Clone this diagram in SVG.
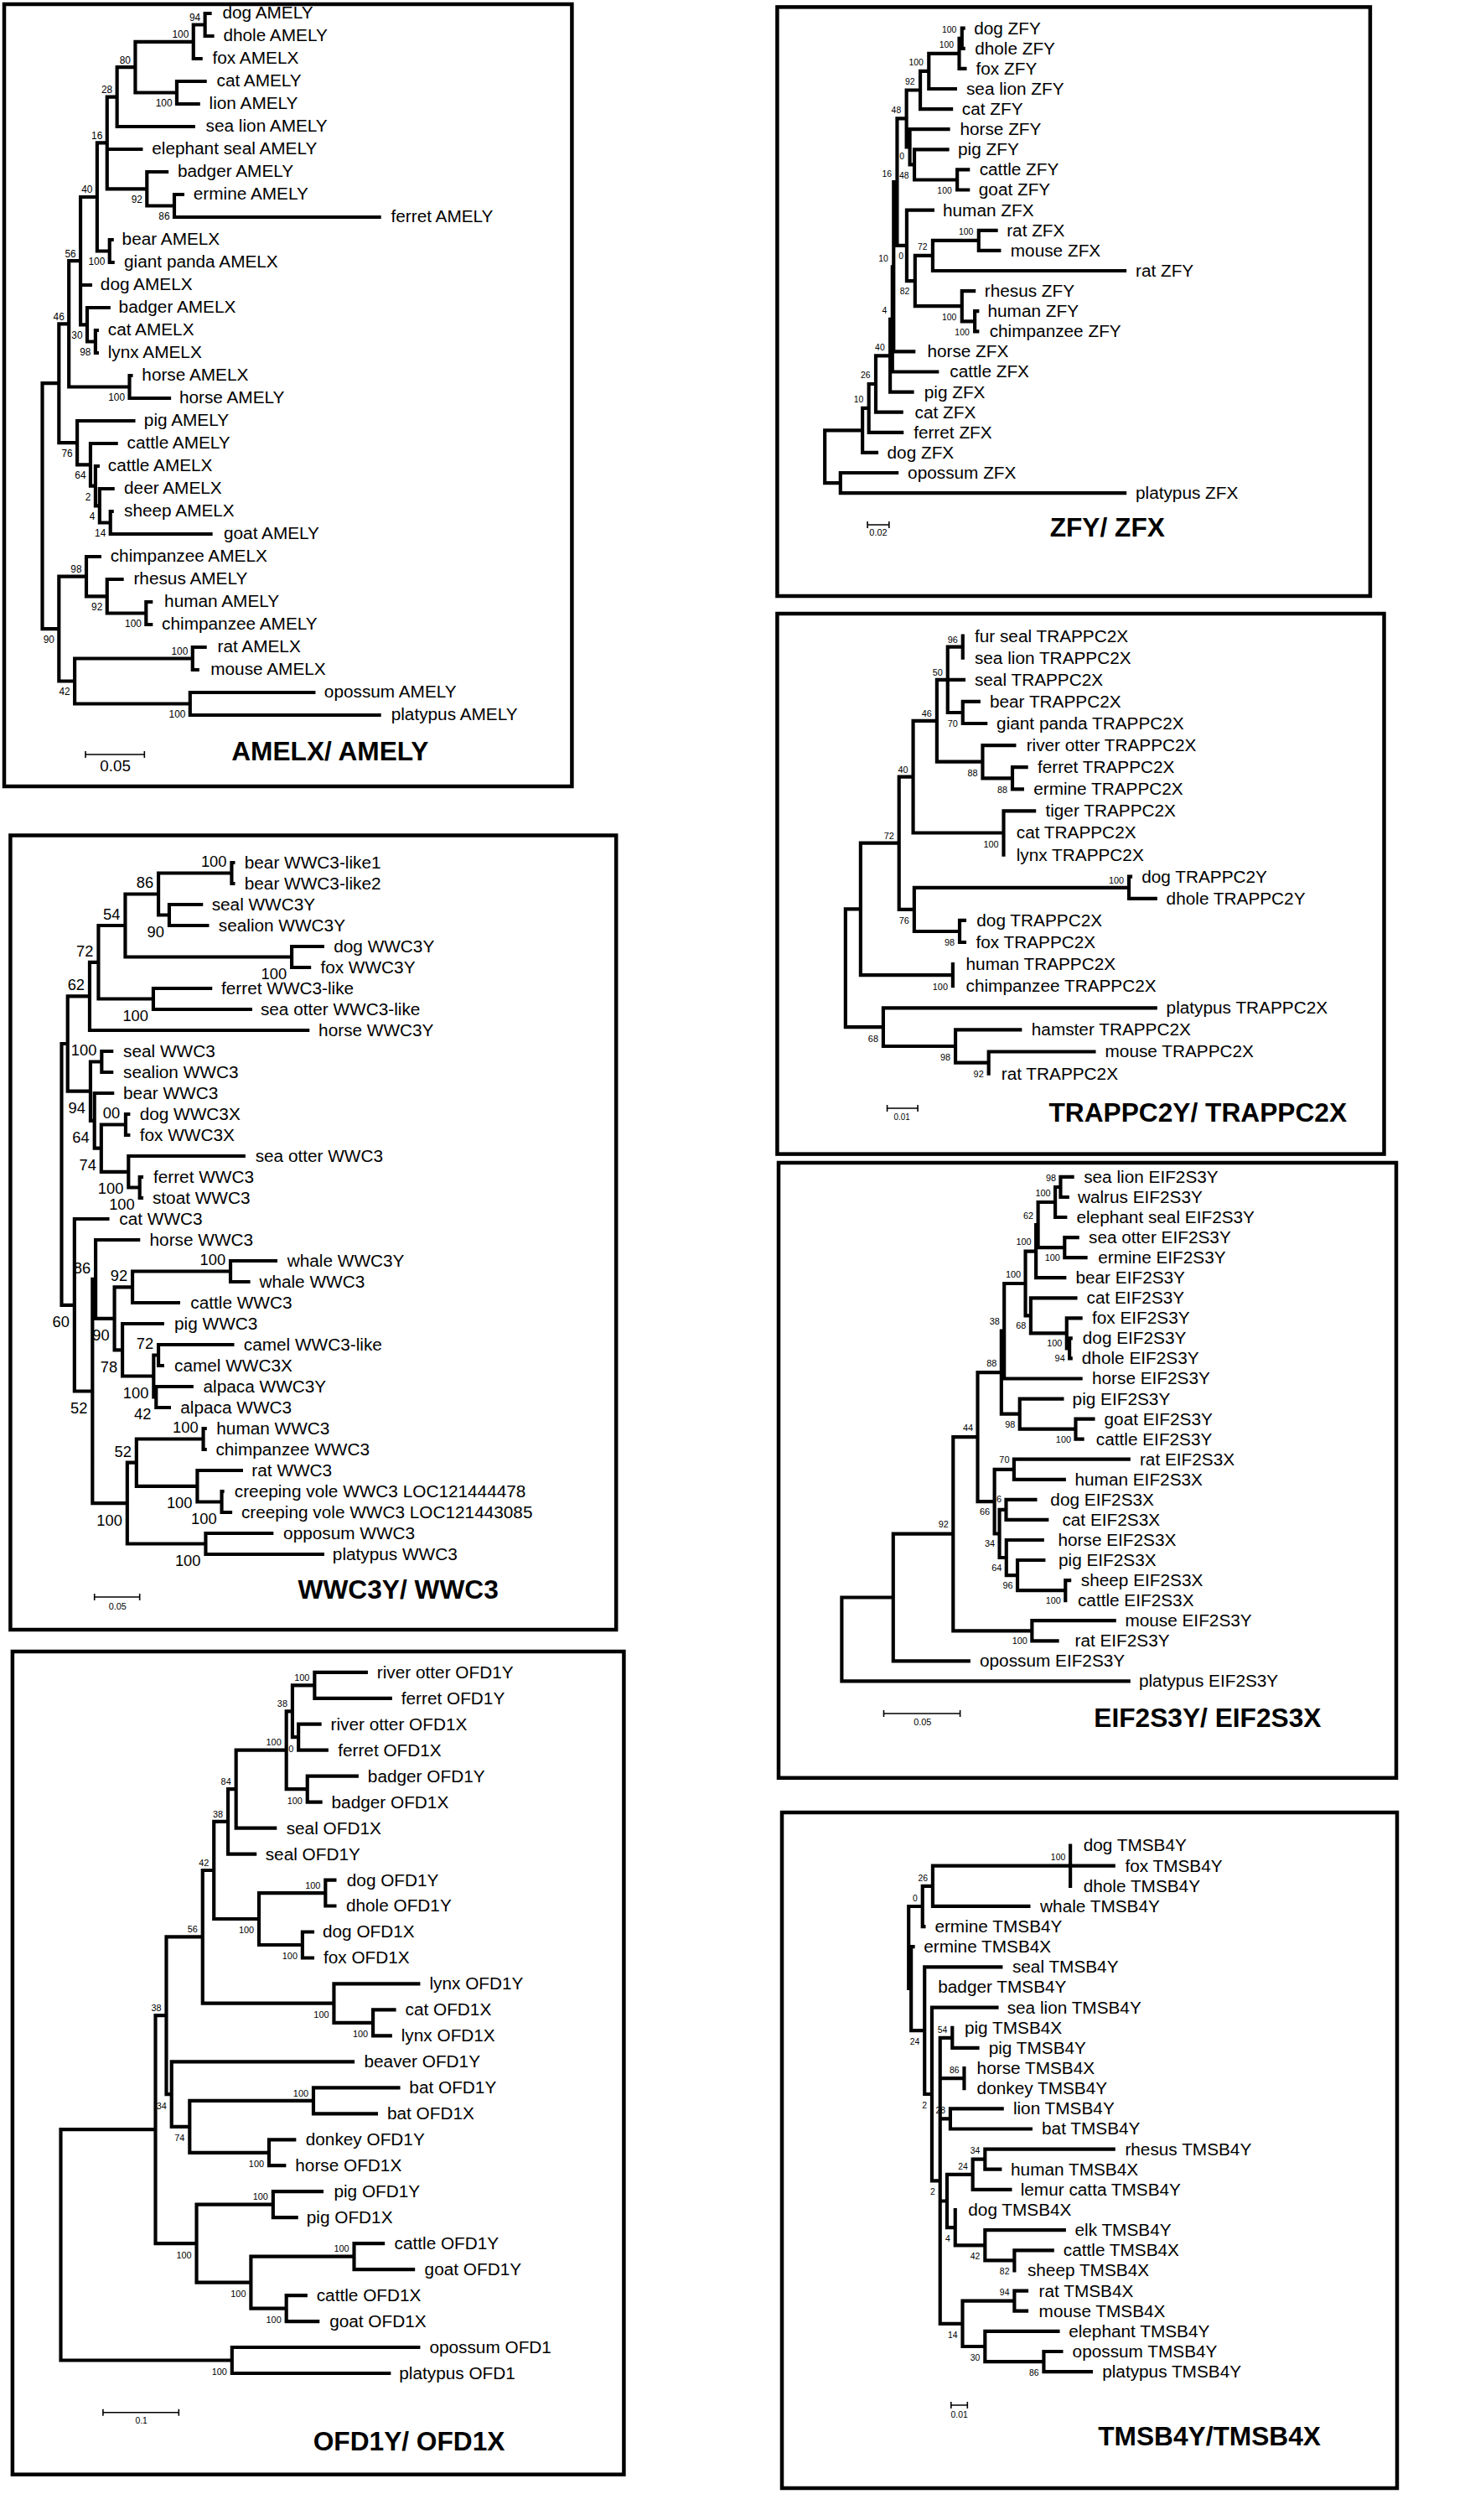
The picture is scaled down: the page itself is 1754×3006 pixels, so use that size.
<svg xmlns="http://www.w3.org/2000/svg" width="1754" height="3006" viewBox="0 0 1754 3006">
<style>
text{font-family:"Liberation Sans",Arial,Helvetica,sans-serif;fill:#000}
.lf{font-size:21px}
.bs{text-anchor:end;font-size:11px}
.bs12{text-anchor:end;font-size:12px}
.bs10{text-anchor:end;font-size:10.5px}
.bsL{text-anchor:end;font-size:18.5px}
.ttl{font-size:32px;font-weight:bold;text-anchor:middle}
.sbt{font-size:11px;text-anchor:middle}
.br{fill:none;stroke:#000;stroke-width:4.2;stroke-linecap:square}
.frame{fill:none;stroke:#000;stroke-width:4.5}
.sb{fill:none;stroke:#000;stroke-width:1.6}
</style>
<rect x="0" y="0" width="1754" height="3006" fill="#fff"/>

<!-- ================= AMELX / AMELY ================= -->
<g id="panel-amelx">
<rect class="frame" x="5" y="5" width="677.4" height="933"/>
<g transform="matrix(0.9904 0 0 1 0 0)">
<g id="amelx-support" class="bs12">
<text x="241.5" y="25">94</text><text x="227.5" y="45.3">100</text><text x="207.5" y="127.5">100</text>
<text x="157.5" y="75.6">80</text><text x="135.5" y="111.1">28</text><text x="123.5" y="165.9">16</text>
<text x="171.5" y="242.3">92</text><text x="204.5" y="262.5">86</text><text x="126.5" y="316.5">100</text>
<text x="111.5" y="230.5">40</text><text x="91.5" y="306.6">56</text><text x="99.5" y="404.3">30</text>
<text x="109.5" y="424.5">98</text><text x="77.5" y="381.8">46</text><text x="150.5" y="478.5">100</text>
<text x="87.5" y="545.2">76</text><text x="103.5" y="571.3">64</text><text x="109.5" y="596.6">2</text>
<text x="114.5" y="620.3">4</text><text x="127.5" y="640.5">14</text><text x="98.5" y="683.1">98</text>
<text x="123.5" y="728.3">92</text><text x="170.5" y="748.5">100</text><text x="65.5" y="767">90</text>
<text x="226.5" y="781">100</text><text x="84.5" y="829.5">42</text><text x="223.5" y="856.5">100</text>
</g>
<g id="amelx-connectors">
<path class="br" d="M51,457.2V750.1M51,457.2H71M51,750.1H71
M71,386.3V528.2M71,386.3H83M71,528.2H93
M83,311.1V461.5M83,311.1H97M83,461.5H156
M97,235V387.3M97,235H117M97,340H109M97,387.3H105
M117,170.4V299.5M117,170.4H129M117,299.5H132
M129,115.6V225.3M129,115.6H141M129,178H170M129,225.3H177
M141,80.1V151M141,80.1H163M141,151H233
M163,49.8V110.5M163,49.8H233M163,110.5H213
M233,29.5V70M233,29.5H247M233,70H242
M247,16V43M247,16H253M247,43H256
M213,97V124M213,97H247M213,124H239
M177,205V245.5M177,205H201M177,245.5H210
M210,232V259M210,232H220M210,259H457
M132,286V313M132,286H135M132,313H136
M105,367V407.5M105,367H131M105,407.5H115
M115,394V421M115,394H117M115,421H117
M156,448V475M156,448H158M156,475H204
M93,502V554.3M93,502H161M93,554.3H109
M109,529V579.6M109,529H140M109,579.6H115
M115,556V603.3M115,556H118M115,603.3H120
M120,583V623.5M120,583H136M120,623.5H133
M133,610V637M133,610H135M133,637H254
M71,687.6V812.5M71,687.6H104M71,812.5H90
M104,664V711.3M104,664H120M104,711.3H129
M129,691V731.5M129,691H147M129,731.5H176
M176,718V745M176,718H182M176,745H182
M90,785.5V839.5M90,785.5H232M90,839.5H229
M232,772V799M232,772H247M232,799H238
M229,826V853M229,826H378M229,853H457"/>
</g>
<g id="amelx-leaves" class="lf">
<text x="268" y="22.5">dog AMELY</text><text x="269" y="49.5">dhole AMELY</text><text x="256" y="76.5">fox AMELX</text>
<text x="261" y="103.5">cat AMELY</text><text x="252" y="130.5">lion AMELY</text><text x="248" y="157.5">sea lion AMELY</text>
<text x="183" y="184.5">elephant seal AMELY</text><text x="214" y="211.5">badger AMELY</text><text x="233" y="238.5">ermine AMELY</text>
<text x="471" y="265.5">ferret AMELY</text><text x="147" y="292.5">bear AMELX</text><text x="149.5" y="319.5">giant panda AMELX</text>
<text x="121" y="346.5">dog AMELX</text><text x="143" y="373.5">badger AMELX</text><text x="130" y="400.5">cat AMELX</text>
<text x="130" y="427.5">lynx AMELX</text><text x="171" y="454.5">horse AMELX</text><text x="216" y="481.5">horse AMELY</text>
<text x="173.5" y="508.5">pig AMELY</text><text x="153" y="535.5">cattle AMELY</text><text x="130" y="562.5">cattle AMELX</text>
<text x="149.5" y="589.5">deer AMELX</text><text x="149.5" y="616.5">sheep AMELX</text><text x="269.6" y="643.5">goat AMELY</text>
<text x="133" y="670.5">chimpanzee AMELX</text><text x="161" y="697.5">rhesus AMELY</text><text x="198" y="724.5">human AMELY</text>
<text x="195" y="751.5">chimpanzee AMELY</text><text x="262" y="778.5">rat AMELX</text><text x="253.7" y="805.5">mouse AMELX</text>
<text x="390.6" y="832.5">opossum AMELY</text><text x="471.2" y="859.5">platypus AMELY</text>
</g>
<path class="sb" d="M103,896V904M103,900H174M174,896V904" stroke-width="2"/>
<text x="139" y="920" style="font-size:19px;text-anchor:middle">0.05</text>
<text class="ttl" x="397.6" y="907.5">AMELX/ AMELY</text>
</g>
</g>

<!-- ================= ZFY / ZFX ================= -->
<g id="panel-zfy">
<rect class="frame" x="927.4" y="8.4" width="707.5" height="702.6"/>
<g transform="matrix(0.9904 0 0 1 9.024 0)">
<g id="zfy-support" class="bs10">
<text x="1143.3" y="39.3">100</text><text x="1140" y="57.3">100</text><text x="1103.4" y="78.4">100</text>
<text x="1093.1" y="101">92</text><text x="1076.5" y="134.9">48</text><text x="1080.5" y="190.5">0</text>
<text x="1086" y="212.8">48</text><text x="1137.6" y="230.9">100</text><text x="1065.2" y="210.6">16</text>
<text x="1079.3" y="309">0</text><text x="1108.1" y="298.4">72</text><text x="1163.5" y="280.4">100</text>
<text x="1086.8" y="351.5">82</text><text x="1143.3" y="381.6">100</text><text x="1158.8" y="399.7">100</text>
<text x="1061" y="311.8">10</text><text x="1059.5" y="374.4">4</text><text x="1056.8" y="417.8">40</text>
<text x="1039.5" y="451.5">26</text><text x="1031.1" y="480.4">10</text>
</g>
<g id="zfy-connectors">
<path class="br" d="M984.6,513.4V576.1M984.6,513.4H1030M984.6,576.1H1003.4
M1003.4,564V588.1M1003.4,564H1071.4M1003.4,588.1H1346
M1030,486.9V539.9M1030,486.9H1037.6M1030,539.9H1047
M1037.6,458V515.8M1037.6,458H1046M1037.6,515.8H1077.5
M1046,424.3V491.7M1046,424.3H1063.3M1046,491.7H1077
M1063.3,380.9V467.6M1063.3,380.9H1066M1063.3,467.6H1090
M1066,318.3V443.5M1066,318.3H1067.5M1066,443.5H1120
M1067.5,217.1V419.4M1067.5,217.1H1071.7M1067.5,419.4H1091.7
M1071.7,141.4V292.8M1071.7,141.4H1083M1071.7,292.8H1083.3
M1083,107.5V175.3M1083,107.5H1099.6M1083,175.3H1087
M1099.6,84.9V130.1M1099.6,84.9H1109.9M1099.6,130.1H1137
M1109.9,63.8V106M1109.9,63.8H1146.5M1109.9,106H1141.8
M1146.5,45.8V81.9M1146.5,45.8H1149.8M1146.5,81.9H1153.5
M1149.8,33.7V57.8M1149.8,33.7H1151.7M1149.8,57.8H1151.7
M1087,154.2V196.4M1087,154.2H1133.4M1087,196.4H1092.5
M1092.5,178.3V214.5M1092.5,178.3H1132.4M1092.5,214.5H1144.1
M1144.1,202.4V226.5M1144.1,202.4H1157.3M1144.1,226.5H1157.3
M1083.3,250.6V335.1M1083.3,250.6H1114.6M1083.3,335.1H1093.3
M1093.3,304.9V365.2M1093.3,304.9H1114.6M1093.3,365.2H1149.8
M1114.6,286.9V323M1114.6,286.9H1170M1114.6,323H1346
M1170,274.8V298.9M1170,274.8H1191M1170,298.9H1194.8
M1149.8,347.1V383.3M1149.8,347.1H1164.3M1149.8,383.3H1165.3
M1165.3,371.2V395.3M1165.3,371.2H1168.5M1165.3,395.3H1168.5"/>
</g>
<g id="zfy-leaves" class="lf">
<text x="1164.3" y="40.7">dog ZFY</text><text x="1165.3" y="64.8">dhole ZFY</text><text x="1166.7" y="88.9">fox ZFY</text>
<text x="1155" y="113">sea lion ZFY</text><text x="1149.8" y="137.1">cat ZFY</text><text x="1147.4" y="161.2">horse ZFY</text>
<text x="1145" y="185.3">pig ZFY</text><text x="1170.9" y="209.4">cattle ZFY</text><text x="1170" y="233.5">goat ZFY</text>
<text x="1126.8" y="257.6">human ZFX</text><text x="1203.7" y="281.8">rat ZFX</text><text x="1208.4" y="305.9">mouse ZFX</text>
<text x="1359" y="330">rat ZFY</text><text x="1177" y="354.1">rhesus ZFY</text><text x="1180.8" y="378.2">human ZFY</text>
<text x="1183" y="402.3">chimpanzee ZFY</text><text x="1108" y="426.4">horse ZFX</text><text x="1135.2" y="450.5">cattle ZFX</text>
<text x="1104.3" y="474.6">pig ZFX</text><text x="1093" y="498.7">cat ZFX</text><text x="1091.6" y="522.8">ferret ZFX</text>
<text x="1059.7" y="546.9">dog ZFX</text><text x="1084.5" y="571">opossum ZFX</text><text x="1359" y="595.1">platypus ZFX</text>
</g>
<path class="sb" d="M1036,622V630M1036,626H1062M1062,622V630"/>
<text class="sbt" x="1049" y="639.5">0.02</text>
<text class="ttl" x="1325" y="640">ZFY/ ZFX</text>
</g>
</g>

<!-- ================= TRAPPC2Y / TRAPPC2X ================= -->
<g id="panel-trappc2">
<rect class="frame" x="927.4" y="732" width="724.1" height="644.6"/>
<g transform="matrix(0.9904 0 0 1 9.024 0)">
<g id="trappc2-support" class="bs">
<text x="1144.8" y="766.9">96</text><text x="1126.6" y="806">50</text><text x="1144.8" y="867.5">70</text>
<text x="1113.6" y="855">46</text><text x="1168.7" y="926.2">88</text><text x="1204.6" y="945.8">88</text>
<text x="1085" y="921.8">40</text><text x="1194" y="1011">100</text><text x="1068" y="1000.9">72</text>
<text x="1086.3" y="1102.4">76</text><text x="1345" y="1054">100</text><text x="1141" y="1128.5">98</text>
<text x="1132.8" y="1180.7">100</text><text x="1049" y="1242.6">68</text><text x="1136" y="1265.5">98</text>
<text x="1176" y="1285">92</text>
</g>
<g id="trappc2-connectors">
<path class="br" d="M1009.5,1084.4V1225.1M1009.5,1084.4H1027.7M1009.5,1225.1H1055
M1027.7,1005.7V1163.2M1027.7,1005.7H1074M1027.7,1163.2H1138.8
M1074,926.6V1084.9M1074,926.6H1091M1074,1084.9H1092.3
M1091,859.8V993.5M1091,859.8H1119.6M1091,993.5H1200
M1119.6,810.8V908.7M1119.6,810.8H1132.6M1119.6,908.7H1174.7
M1132.6,771.7V850M1132.6,771.7H1150.8M1132.6,810.8H1152M1132.6,850H1150.8
M1150.8,758.6V784.7
M1150.8,836.9V863M1150.8,836.9H1170M1150.8,863H1178.5
M1174.7,889.1V928.3M1174.7,889.1H1213M1174.7,928.3H1210.6
M1210.6,915.2V941.3M1210.6,915.2H1227.4M1210.6,941.3H1222.6
M1200,967.4V1019.6M1200,967.4H1237
M1092.3,1058.8V1111M1092.3,1058.8H1351M1092.3,1111H1147
M1351,1045.7V1071.8M1351,1045.7H1353M1351,1071.8H1383
M1147,1097.9V1124M1147,1097.9H1153M1147,1124H1153
M1138.8,1150.1V1176.2
M1055,1202.3V1248M1055,1202.3H1383M1055,1248H1142
M1142,1228.4V1267.6M1142,1228.4H1220M1142,1267.6H1182
M1182,1254.5V1280.6M1182,1254.5H1309"/>
</g>
<g id="trappc2-leaves" class="lf">
<text x="1165.1" y="765.6">fur seal TRAPPC2X</text><text x="1165.1" y="791.7">sea lion TRAPPC2X</text>
<text x="1165.1" y="817.8">seal TRAPPC2X</text><text x="1183.3" y="843.9">bear TRAPPC2X</text>
<text x="1191.5" y="870">giant panda TRAPPC2X</text><text x="1227.4" y="896.1">river otter TRAPPC2X</text>
<text x="1240.8" y="922.2">ferret TRAPPC2X</text><text x="1236" y="948.3">ermine TRAPPC2X</text>
<text x="1250.4" y="974.4">tiger TRAPPC2X</text><text x="1215.4" y="1000.5">cat TRAPPC2X</text>
<text x="1215.4" y="1026.6">lynx TRAPPC2X</text><text x="1366.3" y="1052.7">dog TRAPPC2Y</text>
<text x="1396" y="1078.8">dhole TRAPPC2Y</text><text x="1167.5" y="1104.9">dog TRAPPC2X</text>
<text x="1166.6" y="1131">fox TRAPPC2X</text><text x="1154.6" y="1157.1">human TRAPPC2X</text>
<text x="1154.6" y="1183.2">chimpanzee TRAPPC2X</text><text x="1396" y="1209.3">platypus TRAPPC2X</text>
<text x="1233.6" y="1235.4">hamster TRAPPC2X</text><text x="1322.2" y="1261.5">mouse TRAPPC2X</text>
<text x="1197.2" y="1287.6">rat TRAPPC2X</text>
</g>
<path class="sb" d="M1059.7,1318V1326M1059.7,1322H1096.6M1096.6,1318V1326"/>
<text class="sbt" x="1077.5" y="1336" style="font-size:10px">0.01</text>
<text class="ttl" x="1434" y="1338.5">TRAPPC2Y/ TRAPPC2X</text>
</g>
</g>

<!-- ================= EIF2S3Y / EIF2S3X ================= -->
<g id="panel-eif2s3">
<rect class="frame" x="929" y="1387" width="737" height="733.8"/>
<g transform="matrix(0.9904 0 0 1 9.024 0)">
<g id="eif2s3-support" class="bs">
<text x="1263.1" y="1408.8">98</text><text x="1256.7" y="1426.8">100</text><text x="1236" y="1453.8">62</text>
<text x="1268" y="1504.1">100</text><text x="1233.5" y="1485.4">100</text><text x="1220.8" y="1523.8">100</text>
<text x="1227.2" y="1585.3">68</text><text x="1270.5" y="1606.4">100</text><text x="1273.9" y="1624.4">94</text>
<text x="1195.2" y="1580.5">38</text><text x="1191.8" y="1630">88</text><text x="1213.9" y="1702.6">98</text>
<text x="1281.3" y="1720.7">100</text><text x="1163.2" y="1707">44</text><text x="1207" y="1745.5">70</text>
<text x="1183.5" y="1807.1">66</text><text x="1197.5" y="1792.5">6</text><text x="1189.5" y="1845.5">34</text>
<text x="1197.8" y="1874">64</text><text x="1211.2" y="1895.1">96</text><text x="1269" y="1913.2">100</text>
<text x="1133.7" y="1822.5">92</text><text x="1228.7" y="1961.3">100</text>
</g>
<g id="eif2s3-connectors">
<path class="br" d="M1005,1905.5V2005.4M1005,1905.5H1067M1005,2005.4H1350.7
M1067,1829.7V1981.3M1067,1829.7H1139.2M1067,1981.3H1157.9
M1139.2,1714.2V1945.3M1139.2,1714.2H1168.7M1139.2,1945.3H1234.2
M1234.2,1933.2V1957.3M1234.2,1933.2H1333.5M1234.2,1957.3H1264.7
M1168.7,1637.2V1791.1M1168.7,1637.2H1197.3M1168.7,1791.1H1189
M1197.3,1587.7V1686.6M1197.3,1587.7H1200.7M1197.3,1686.6H1219.4
M1200.7,1531V1644.5M1200.7,1531H1226.3M1200.7,1644.5H1293
M1226.3,1492.6V1569.3M1226.3,1492.6H1239M1226.3,1569.3H1232.7
M1239,1461V1524.2M1239,1461H1241.5M1239,1524.2H1273.5
M1241.5,1434V1488.1M1241.5,1434H1262.2M1241.5,1488.1H1273.5
M1262.2,1416V1452M1262.2,1416H1268.6M1262.2,1452H1274.5
M1268.6,1403.9V1428M1268.6,1403.9H1282.9M1268.6,1428H1277
M1273.5,1476.1V1500.1M1273.5,1476.1H1289M1273.5,1500.1H1299
M1232.7,1548.3V1590.4M1232.7,1548.3H1286.8M1232.7,1590.4H1276
M1276,1572.3V1608.4M1276,1572.3H1293M1276,1608.4H1279.4
M1279.4,1596.4V1620.4M1279.4,1596.4H1281M1279.4,1620.4H1281
M1219.4,1668.6V1704.7M1219.4,1668.6H1270.6M1219.4,1704.7H1286.8
M1286.8,1692.6V1716.7M1286.8,1692.6H1308M1286.8,1716.7H1295
M1189,1752.8V1829.5M1189,1752.8H1212.5M1189,1829.5H1195
M1212.5,1740.7V1764.8M1212.5,1740.7H1350.7M1212.5,1764.8H1273
M1195,1800.9V1858M1195,1800.9H1203M1195,1858H1203.3
M1203,1788.9V1812.9M1203,1788.9H1238.3M1203,1812.9H1252.3
M1203.3,1837V1879.1M1203.3,1837H1246.7M1203.3,1879.1H1216.7
M1216.7,1861V1897.2M1216.7,1861H1248.3M1216.7,1897.2H1274.5
M1274.5,1885.1V1909.2M1274.5,1885.1H1279.4"/>
</g>
<g id="eif2s3-leaves" class="lf">
<text x="1296.6" y="1410.9">sea lion EIF2S3Y</text><text x="1289.3" y="1435">walrus EIF2S3Y</text>
<text x="1287.8" y="1459">elephant seal EIF2S3Y</text><text x="1302.5" y="1483.1">sea otter EIF2S3Y</text>
<text x="1313.8" y="1507.1">ermine EIF2S3Y</text><text x="1286.8" y="1531.2">bear EIF2S3Y</text>
<text x="1300" y="1555.3">cat EIF2S3Y</text><text x="1306.5" y="1579.3">fox EIF2S3Y</text>
<text x="1295.2" y="1603.4">dog EIF2S3Y</text><text x="1294.2" y="1627.4">dhole EIF2S3Y</text>
<text x="1306.5" y="1651.5">horse EIF2S3Y</text><text x="1282.9" y="1675.6">pig EIF2S3Y</text>
<text x="1321.2" y="1699.6">goat EIF2S3Y</text><text x="1311.4" y="1723.7">cattle EIF2S3Y</text>
<text x="1364" y="1747.7">rat EIF2S3X</text><text x="1285.8" y="1771.8">human EIF2S3X</text>
<text x="1256.4" y="1795.9">dog EIF2S3X</text><text x="1270.6" y="1819.9">cat EIF2S3X</text>
<text x="1265.6" y="1844">horse EIF2S3X</text><text x="1266.1" y="1868">pig EIF2S3X</text>
<text x="1293.2" y="1892.1">sheep EIF2S3X</text><text x="1289.3" y="1916.2">cattle EIF2S3X</text>
<text x="1346.3" y="1940.2">mouse EIF2S3Y</text><text x="1285.8" y="1964.3">rat EIF2S3Y</text>
<text x="1171.2" y="1988.3">opossum EIF2S3Y</text><text x="1363" y="2012.4">platypus EIF2S3Y</text>
</g>
<path class="sb" d="M1055.6,2040V2048M1055.6,2044H1147.6M1147.6,2040V2048"/>
<text class="sbt" x="1102.3" y="2058">0.05</text>
<text class="ttl" x="1445.7" y="2060.2">EIF2S3Y/ EIF2S3X</text>
</g>
</g>

<!-- ================= TMSB4Y / TMSB4X ================= -->
<g id="panel-tmsb4">
<rect class="frame" x="933" y="2162" width="734" height="806"/>
<g transform="matrix(0.9904 0 0 1 9.024 0)">
<g id="tmsb4-support" class="bs10">
<text x="1274.4" y="2219.5">100</text><text x="1108.6" y="2243.6">26</text><text x="1096.3" y="2267.8">0</text>
<text x="1098.8" y="2438.9">24</text><text x="1107.6" y="2514.8">2</text><text x="1132.2" y="2424.7">54</text>
<text x="1146.5" y="2472.9">86</text><text x="1129.8" y="2521.2">28</text><text x="1117.5" y="2618.1">2</text>
<text x="1171.6" y="2569.5">34</text><text x="1156.8" y="2587.6">24</text><text x="1135.7" y="2673.9">4</text>
<text x="1171.6" y="2695.1">42</text><text x="1207" y="2713.2">82</text><text x="1207" y="2738.5">94</text>
<text x="1144.5" y="2788.6">14</text><text x="1171.6" y="2815.8">30</text><text x="1242.4" y="2833.9">86</text>
</g>
<g id="tmsb4-connectors">
<path class="br" d="M1085.6,2274V2372M1085.6,2274H1102.3M1085.6,2372H1088.6
M1088.6,2322.2V2422.1M1088.6,2322.2H1091M1088.6,2422.1H1104.8
M1102.3,2249.8V2298.1M1102.3,2249.8H1114.6M1102.3,2298.1H1104
M1114.6,2225.7V2273.9M1114.6,2225.7H1332.5M1114.6,2273.9H1230.2
M1280.4,2201.5V2249.8
M1104.8,2346.3V2498M1104.8,2346.3H1196.8M1104.8,2498H1113.6
M1113.6,2394.6V2601.3M1113.6,2394.6H1191.9M1113.6,2601.3H1123.5
M1123.5,2430.9V2771.8M1123.5,2430.9H1138.2M1123.5,2479.1H1152.5M1123.5,2527.4H1135.8M1123.5,2625.5H1131.8M1123.5,2771.8H1150.5
M1138.2,2418.8V2442.9M1138.2,2442.9H1168.7
M1152.5,2467V2491.2
M1135.8,2515.3V2539.5M1135.8,2515.3H1198.2M1135.8,2539.5H1232.7
M1131.8,2593.8V2657.1M1131.8,2593.8H1162.8M1131.8,2657.1H1141.7
M1162.8,2575.7V2611.9M1162.8,2575.7H1177.6M1162.8,2611.9H1208
M1177.6,2563.6V2587.7M1177.6,2563.6H1332.5M1177.6,2587.7H1195.8
M1141.7,2636V2678.3M1141.7,2678.3H1177.6
M1177.6,2660.2V2696.4M1177.6,2660.2H1273M1177.6,2696.4H1213
M1213,2684.3V2708.4M1213,2684.3H1258.8
M1150.5,2744.7V2799M1150.5,2744.7H1213M1150.5,2799H1177.6
M1213,2732.6V2756.7M1213,2732.6H1227.8M1213,2756.7H1227.8
M1177.6,2780.9V2817.1M1177.6,2780.9H1265.6M1177.6,2817.1H1248.4
M1248.4,2805V2829.1M1248.4,2805H1269.6M1248.4,2829.1H1305.5"/>
</g>
<g id="tmsb4-leaves" class="lf">
<text x="1296.1" y="2208.5">dog TMSB4Y</text><text x="1346.3" y="2232.6">fox TMSB4Y</text>
<text x="1296.1" y="2256.8">dhole TMSB4Y</text><text x="1244" y="2280.9">whale TMSB4Y</text>
<text x="1117.1" y="2305.1">ermine TMSB4Y</text><text x="1103.8" y="2329.2">ermine TMSB4X</text>
<text x="1210.5" y="2353.3">seal TMSB4Y</text><text x="1121" y="2377.5">badger TMSB4Y</text>
<text x="1204.2" y="2401.6">sea lion TMSB4Y</text><text x="1153" y="2425.8">pig TMSB4X</text>
<text x="1182" y="2449.9">pig TMSB4Y</text><text x="1167.8" y="2474">horse TMSB4X</text>
<text x="1167.8" y="2498.2">donkey TMSB4Y</text><text x="1211.5" y="2522.3">lion TMSB4Y</text>
<text x="1246" y="2546.5">bat TMSB4Y</text><text x="1346.3" y="2570.6">rhesus TMSB4Y</text>
<text x="1208.6" y="2594.7">human TMSB4X</text><text x="1220.4" y="2618.9">lemur catta TMSB4Y</text>
<text x="1157.4" y="2643">dog TMSB4X</text><text x="1285.8" y="2667.2">elk TMSB4Y</text>
<text x="1272" y="2691.3">cattle TMSB4X</text><text x="1228.7" y="2715.4">sheep TMSB4X</text>
<text x="1242.5" y="2739.6">rat TMSB4X</text><text x="1242.5" y="2763.7">mouse TMSB4X</text>
<text x="1278.4" y="2787.9">elephant TMSB4Y</text><text x="1282.9" y="2812">opossum TMSB4Y</text>
<text x="1318.8" y="2836.1">platypus TMSB4Y</text>
</g>
<path class="sb" d="M1136.7,2865V2873M1136.7,2869H1156.4M1156.4,2865V2873"/>
<text class="sbt" x="1146.6" y="2884" style="font-size:10.5px">0.01</text>
<text class="ttl" x="1448" y="2917.3">TMSB4Y/TMSB4X</text>
</g>
</g>

<!-- ================= WWC3Y / WWC3 ================= -->
<g id="panel-wwc3">
<rect class="frame" x="12.4" y="996.5" width="722.8" height="947.5"/>
<g transform="matrix(0.9904 0 0 1 0.096 0)">
<g id="wwc3-support" class="bsL">
<text x="273" y="1034.5">100</text><text x="184.8" y="1059.5">86</text><text x="197.8" y="1118">90</text>
<text x="144.8" y="1097">54</text><text x="345.4" y="1168">100</text><text x="112.5" y="1140.8">72</text>
<text x="178.6" y="1218">100</text><text x="101.9" y="1181.4">62</text><text x="116.4" y="1259.5">100</text>
<text x="102.9" y="1328.2">94</text><text x="107.7" y="1363.3">64</text><text x="144.5" y="1334.5">00</text>
<text x="115.9" y="1396.1">74</text><text x="148.7" y="1424.3">100</text><text x="162.2" y="1443">100</text>
<text x="109.1" y="1518.9">86</text><text x="271.6" y="1509.5">100</text><text x="153.5" y="1528.3">92</text>
<text x="131.8" y="1599.3">90</text><text x="83.6" y="1583.3">60</text><text x="184.8" y="1609.5">72</text>
<text x="141.4" y="1636.8">78</text><text x="179" y="1668">100</text><text x="182" y="1693">42</text>
<text x="105.3" y="1686">52</text><text x="238.8" y="1709.5">100</text><text x="158.3" y="1737.6">52</text>
<text x="231.6" y="1799.3">100</text><text x="261" y="1818">100</text><text x="147.2" y="1819.6">100</text>
<text x="241.7" y="1868">100</text>
</g>
<g id="wwc3-connectors">
<path class="br" d="M74.1,1245V1556.8M74.1,1245H81.4M74.1,1556.8H89.6
M81.4,1188.4V1301.7M81.4,1188.4H107.9M81.4,1301.7H108.9
M107.9,1147.8V1229M107.9,1147.8H118.5M107.9,1229H370.7
M118.5,1104V1191.5M118.5,1104H150.8M118.5,1191.5H184.6
M150.8,1066.5V1141.5M150.8,1066.5H190.8M150.8,1141.5H351.4
M190.8,1041.5V1091.5M190.8,1041.5H279M190.8,1091.5H203.8
M279,1029V1054M279,1029H281M279,1054H281
M203.8,1079V1104M203.8,1079H242.4M203.8,1104H249.7
M351.4,1129V1154M351.4,1129H388.5M351.4,1154H372.6
M184.6,1179V1204M184.6,1179H253.5M184.6,1204H301.7
M108.9,1266.5V1336.8M108.9,1266.5H122.4M108.9,1336.8H113.7
M122.4,1254V1279M122.4,1254H134.4M122.4,1279H134.4
M113.7,1304V1369.6M113.7,1304H135.4M113.7,1369.6H121.9
M121.9,1341.5V1397.8M121.9,1341.5H151.3M121.9,1397.8H154.7
M151.3,1329V1354M151.3,1329H154.7M151.3,1354H154.7
M154.7,1379V1416.5M154.7,1379H293.5M154.7,1416.5H168.2
M168.2,1404V1429M168.2,1404H170.5M168.2,1429H170.5
M89.6,1454V1659.5M89.6,1454H129.6M89.6,1659.5H111.3
M111.3,1525.9V1793.1M111.3,1525.9H115.1M111.3,1793.1H153.2
M115.1,1479V1572.8M115.1,1479H166.7M115.1,1572.8H137.8
M137.8,1535.3V1610.3M137.8,1535.3H159.5M137.8,1610.3H147.4
M159.5,1516.5V1554M159.5,1516.5H277.6M159.5,1554H214.9
M277.6,1504V1529M277.6,1504H332M277.6,1529H299.3
M147.4,1579V1641.5M147.4,1579H195.6M147.4,1641.5H185
M185,1616.5V1666.5M185,1616.5H190.8M185,1666.5H188
M190.8,1604V1629M190.8,1604H280M190.8,1629H195.6
M188,1654V1679M188,1654H230.9M188,1679H203.8
M153.2,1744.6V1841.5M153.2,1744.6H164.3M153.2,1841.5H247.7
M164.3,1716.5V1772.8M164.3,1716.5H244.8M164.3,1772.8H237.6
M244.8,1704V1729M244.8,1704H247M244.8,1729H247
M237.6,1754V1791.5M237.6,1754H290.6M237.6,1791.5H267
M267,1779V1804M267,1779H268M267,1804H277.6
M247.7,1829V1854M247.7,1829H327.3M247.7,1854H388.5"/>
</g>
<g id="wwc3-leaves" class="lf">
<text x="294.5" y="1036">bear WWC3-like1</text><text x="294.5" y="1061">bear WWC3-like2</text>
<text x="255" y="1086">seal WWC3Y</text><text x="263.2" y="1111">sealion WWC3Y</text>
<text x="402" y="1136">dog WWC3Y</text><text x="386" y="1161">fox WWC3Y</text>
<text x="266.5" y="1186">ferret WWC3-like</text><text x="313.8" y="1211">sea otter WWC3-like</text>
<text x="383.7" y="1236">horse WWC3Y</text><text x="148.4" y="1261">seal WWC3</text>
<text x="148.4" y="1286">sealion WWC3</text><text x="148.4" y="1311">bear WWC3</text>
<text x="168.2" y="1336">dog WWC3X</text><text x="168.2" y="1361">fox WWC3X</text>
<text x="307.5" y="1386">sea otter WWC3</text><text x="184.6" y="1411">ferret WWC3</text>
<text x="183.6" y="1436">stoat WWC3</text><text x="143.6" y="1461">cat WWC3</text>
<text x="180.2" y="1486">horse WWC3</text><text x="346" y="1511">whale WWC3Y</text>
<text x="312.3" y="1536">whale WWC3</text><text x="229.4" y="1561">cattle WWC3</text>
<text x="210" y="1586">pig WWC3</text><text x="293.5" y="1611">camel WWC3-like</text>
<text x="210" y="1636">camel WWC3X</text><text x="244.8" y="1661">alpaca WWC3Y</text>
<text x="217.3" y="1686">alpaca WWC3</text><text x="260.7" y="1711">human WWC3</text>
<text x="259.8" y="1736">chimpanzee WWC3</text><text x="303.2" y="1761">rat WWC3</text>
<text x="282.4" y="1786">creeping vole WWC3 LOC121444478</text><text x="290.6" y="1811">creeping vole WWC3 LOC121443085</text>
<text x="341.3" y="1836">opposum WWC3</text><text x="400.6" y="1861">platypus WWC3</text>
</g>
<path class="sb" d="M113.7,1901V1909M113.7,1905H168.2M168.2,1901V1909"/>
<text class="sbt" x="141.6" y="1919.7">0.05</text>
<text class="ttl" x="479.7" y="1907.5">WWC3Y/ WWC3</text>
</g>
</g>

<!-- ================= OFD1Y / OFD1X ================= -->
<g id="panel-ofd1">
<rect class="frame" x="14.9" y="1970" width="729.5" height="981.7"/>
<g transform="matrix(0.9904 0 0 1 0.096 0)">
<g id="ofd1-support" class="bs">
<text x="372.9" y="2005.1">100</text><text x="353.5" y="2089.7">0</text><text x="346.2" y="2036.1">38</text>
<text x="338.9" y="2082.5">100</text><text x="364.2" y="2151.7">100</text><text x="278.3" y="2129">84</text>
<text x="268.6" y="2167.7">38</text><text x="386" y="2252.9">100</text><text x="358.3" y="2337.5">100</text>
<text x="305.9" y="2306.5">100</text><text x="251.6" y="2225.8">42</text><text x="443.3" y="2430.4">100</text>
<text x="396.2" y="2407.2">100</text><text x="238" y="2305.1">56</text><text x="194.3" y="2399">38</text>
<text x="371.5" y="2500.6">100</text><text x="318" y="2585.3">100</text><text x="222.4" y="2554.3">74</text>
<text x="200.6" y="2515.6">34</text><text x="322.9" y="2624.5">100</text><text x="420.5" y="2686.5">100</text>
<text x="338.9" y="2771.1">100</text><text x="296.2" y="2740.1">100</text><text x="230.7" y="2693.7">100</text>
<text x="273.4" y="2833">100</text>
</g>
<g id="ofd1-connectors">
<path class="br" d="M73.1,2540.2V2815.5M73.1,2540.2H187.2M73.1,2815.5H279.4
M187.2,2404.2V2676.2M187.2,2404.2H200.3M187.2,2676.2H236.7
M200.3,2310.3V2498.1M200.3,2310.3H244M200.3,2498.1H206.6
M244,2231V2389.7M244,2231H257.6M244,2389.7H402.2
M257.6,2172.9V2289M257.6,2172.9H274.6M257.6,2289H311.9
M274.6,2134.2V2211.6M274.6,2134.2H284.3M274.6,2211.6H307
M284.3,2087.7V2180.6M284.3,2087.7H344.9M284.3,2180.6H331.3
M344.9,2041.3V2134.2M344.9,2041.3H352.2M344.9,2134.2H370.2
M352.2,2010.3V2072.2M352.2,2010.3H378.9M352.2,2072.2H359.5
M378.9,1994.8V2025.8M378.9,1994.8H441M378.9,2025.8H470.2
M359.5,2056.7V2087.7M359.5,2056.7H385.2M359.5,2087.7H393.5
M370.2,2118.7V2149.7M370.2,2118.7H429.9M370.2,2149.7H386.2
M311.9,2258.1V2320M311.9,2258.1H392M311.9,2320H364.3
M392,2242.6V2273.5M392,2242.6H403.2M392,2273.5H403.2
M364.3,2304.5V2335.5M364.3,2304.5H376.5M364.3,2335.5H376.5
M402.2,2366.4V2412.9M402.2,2366.4H504.1M402.2,2412.9H449.3
M449.3,2397.4V2428.4M449.3,2397.4H475M449.3,2428.4H470.2
M206.6,2459.4V2536.8M206.6,2459.4H425M206.6,2536.8H228.4
M228.4,2505.8V2567.8M228.4,2505.8H377.5M228.4,2567.8H324
M377.5,2490.3V2521.3M377.5,2490.3H480M377.5,2521.3H453.2
M324,2552.3V2583.2M324,2552.3H354.6M324,2583.2H342.5
M236.7,2629.7V2722.6M236.7,2629.7H328.9M236.7,2722.6H302.2
M328.9,2614.2V2645.2M328.9,2614.2H387.6M328.9,2645.2H357
M302.2,2691.7V2753.6M302.2,2691.7H426.5M302.2,2753.6H344.9
M426.5,2676.2V2707.1M426.5,2676.2H461.4M426.5,2707.1H497.8
M344.9,2738.1V2769.1M344.9,2738.1H368.2M344.9,2769.1H382.8
M279.4,2800V2831M279.4,2800H504.1M279.4,2831H468.7"/>
</g>
<g id="ofd1-leaves" class="lf">
<text x="454.1" y="2001.8">river otter OFD1Y</text><text x="483.3" y="2032.8">ferret OFD1Y</text>
<text x="398.3" y="2063.7">river otter OFD1X</text><text x="407" y="2094.7">ferret OFD1X</text>
<text x="443" y="2125.7">badger OFD1Y</text><text x="399.3" y="2156.7">badger OFD1X</text>
<text x="344.9" y="2187.6">seal OFD1X</text><text x="319.7" y="2218.6">seal OFD1Y</text>
<text x="417.7" y="2249.6">dog OFD1Y</text><text x="416.8" y="2280.5">dhole OFD1Y</text>
<text x="388.6" y="2311.5">dog OFD1X</text><text x="389.6" y="2342.5">fox OFD1X</text>
<text x="517.3" y="2373.4">lynx OFD1Y</text><text x="488.1" y="2404.4">cat OFD1X</text>
<text x="483.3" y="2435.4">lynx OFD1X</text><text x="438.6" y="2466.4">beaver OFD1Y</text>
<text x="493" y="2497.3">bat OFD1Y</text><text x="466.3" y="2528.3">bat OFD1X</text>
<text x="368.2" y="2559.3">donkey OFD1Y</text><text x="355.6" y="2590.2">horse OFD1X</text>
<text x="402.2" y="2621.2">pig OFD1Y</text><text x="369.2" y="2652.2">pig OFD1X</text>
<text x="475" y="2683.2">cattle OFD1Y</text><text x="511.4" y="2714.1">goat OFD1Y</text>
<text x="381.3" y="2745.1">cattle OFD1X</text><text x="396.9" y="2776.1">goat OFD1X</text>
<text x="517.3" y="2807">opossum OFD1</text><text x="480.8" y="2838">platypus OFD1</text>
</g>
<path class="sb" d="M124,2873.7V2881.7M124,2877.7H215.3M215.3,2873.7V2881.7"/>
<text class="sbt" x="170.2" y="2891.5" style="font-size:10.5px">0.1</text>
<text class="ttl" x="492.7" y="2923.2">OFD1Y/ OFD1X</text>
</g>
</g>
</svg>
